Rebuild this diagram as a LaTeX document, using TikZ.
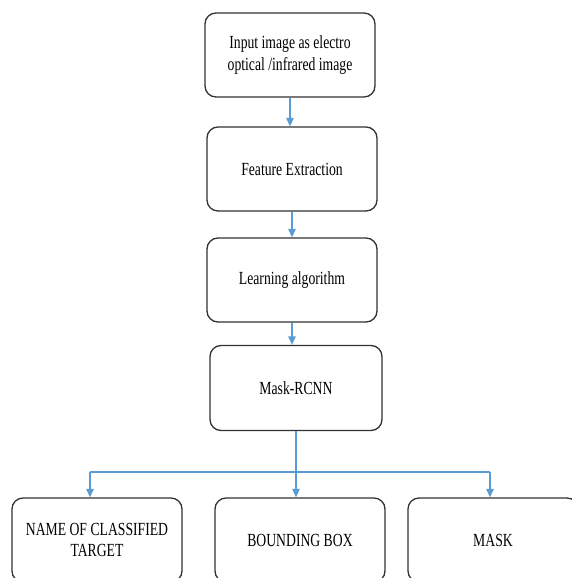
\documentclass[tikz,border=0pt]{standalone}
\usepackage{fontspec}
\setmainfont[FakeStretch=0.74]{Liberation Serif}
\usetikzlibrary{arrows.meta}
\definecolor{lineblue}{RGB}{91,155,213}
\definecolor{boxgray}{RGB}{50,50,50}
\begin{document}
\begin{tikzpicture}[x=1pt,y=-1pt,
  box/.style={draw=boxgray,line width=1.3pt,rounded corners=11pt,fill=white,
    minimum width=170pt,minimum height=84pt,align=center,inner sep=2pt,
    font=\fontsize{18.5}{21.5}\selectfont},
  link/.style={draw=lineblue,line width=1.1pt},
  arr/.style={link,-{Triangle[width=7.5pt,length=8.5pt]}}]
\useasboundingbox (0,0) rectangle (571,578);
\node[box] (inp) at (290,55) {Input image as electro\\optical /infrared image};
\node[box] (feat) at (292,169) {Feature Extraction};
\node[box] (learn) at (292,280) {Learning algorithm};
\node[box,minimum width=172pt,minimum height=85pt] (mask) at (296,388) {Mask-RCNN};
\node[box] (name) at (97,540) {NAME OF CLASSIFIED\\TARGET};
\node[box] (bbox) at (300,540) {BOUNDING BOX};
\node[box] (mk) at (493,540) {MASK};
\coordinate (hl) at (90,472);
\coordinate (hr) at (490,472);
\draw[arr] (inp.south) -- (inp.south |- feat.north);
\draw[arr] (feat.south) -- (feat.south |- learn.north);
\draw[arr] (learn.south) -- (learn.south |- mask.north);
\draw[arr] (mask.south) -- (mask.south |- bbox.north);
\draw[link] (hl) -- (hr);
\draw[arr] (hl) -- (hl |- name.north);
\draw[arr] (hr) -- (hr |- mk.north);
\end{tikzpicture}
\end{document}
